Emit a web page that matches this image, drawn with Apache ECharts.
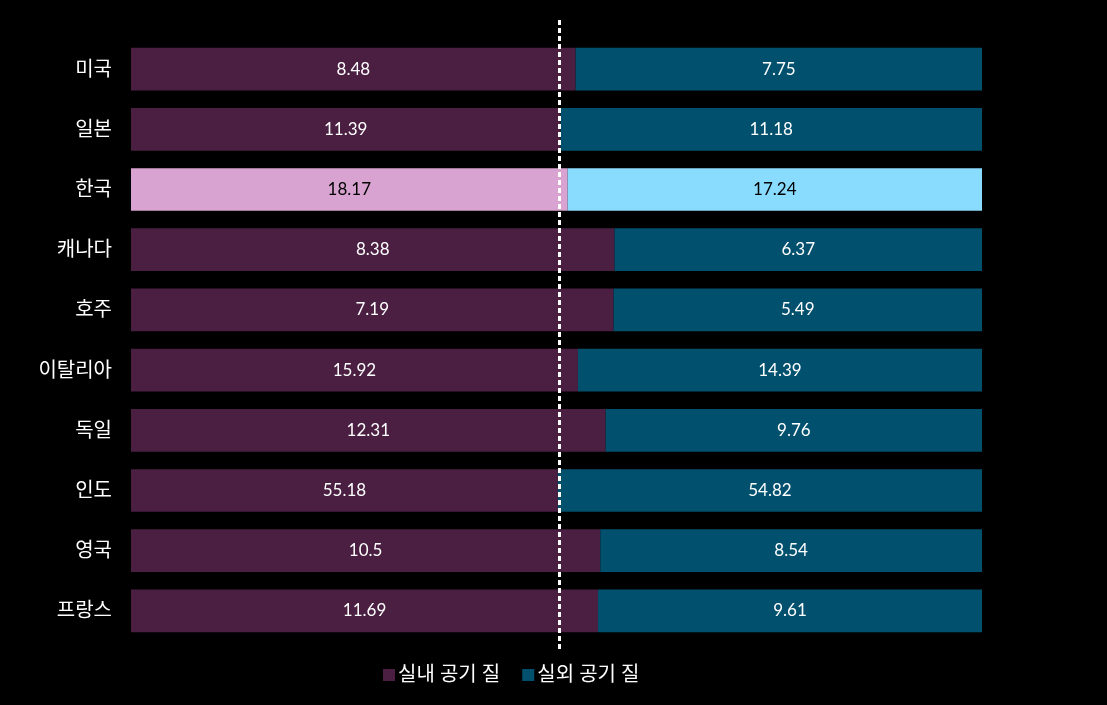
<!DOCTYPE html>
<html>
<head>
<meta charset="utf-8">
<script src="https://cdn.jsdelivr.net/npm/echarts@6/dist/echarts.min.js"></script>
<style>
  html, body { margin: 0; padding: 0; background: #000; }
  #chart { width: 1107px; height: 705px; }
</style>
</head>
<body>
<div id="chart"></div>
<script>
// 국가별 공기 질 (실내 / 실외)
const countries = ['미국', '일본', '한국', '캐나다', '호주', '이탈리아', '독일', '인도', '영국', '프랑스'];
const indoor = [8.48, 11.39, 18.17, 8.38, 7.19, 15.92, 12.31, 55.18, 10.5, 11.69];
const outdoor = [7.75, 11.18, 17.24, 6.37, 5.49, 14.39, 9.76, 54.82, 8.54, 9.61];
const highlight = '한국';

const FONT = 'Lato, "Noto Sans CJK KR", sans-serif';

// 100% 누적 막대로 변환
function share(values, i) {
  return values[i] / (indoor[i] + outdoor[i]) * 100;
}

function buildData(values, normal, hi) {
  return countries.map((name, i) => {
    const item = { value: share(values, i), raw: values[i] };
    if (name === highlight) {
      item.itemStyle = { color: hi };
      item.label = { color: '#000' };
    } else {
      item.itemStyle = { color: normal };
    }
    return item;
  });
}

const chart = echarts.init(document.getElementById('chart'));

const option = {
  backgroundColor: '#000',
  animation: false,
  grid: {
    left: 131,
    right: 125,
    top: 39,
    bottom: 64
  },
  legend: {
    bottom: 15,
    left: 378,
    icon: 'rect',
    itemWidth: 12,
    itemHeight: 12,
    itemGap: 22,
    itemStyle: { borderWidth: 0 },
    textStyle: {
      color: '#fff',
      fontSize: 20,
      padding: [0, 0, 0, -2],
      fontFamily: FONT
    },
    data: [
      { name: '실내 공기 질', itemStyle: { color: '#4a1f42' } },
      { name: '실외 공기 질', itemStyle: { color: '#00506e' } }
    ]
  },
  xAxis: {
    type: 'value',
    min: 0,
    max: 100,
    show: false
  },
  yAxis: {
    type: 'category',
    inverse: true,
    data: countries,
    axisLine: { show: false },
    axisTick: { show: false },
    axisLabel: {
      color: '#fff',
      fontSize: 20,
      margin: 19,
      fontFamily: FONT
    }
  },
  series: [
    {
      name: '실내 공기 질',
      type: 'bar',
      stack: 'total',
      barWidth: '71%',
      data: buildData(indoor, '#4a1f42', '#d9a3d1'),
      label: {
        show: true,
        position: 'inside',
        color: '#fff',
        fontSize: 17,
        fontFamily: FONT,
        formatter: p => p.data.raw
      }
    },
    {
      name: '실외 공기 질',
      type: 'bar',
      stack: 'total',
      barWidth: '71%',
      data: buildData(outdoor, '#00506e', '#8adcff'),
      label: {
        show: true,
        position: 'inside',
        color: '#fff',
        fontSize: 17,
        fontFamily: FONT,
        formatter: p => p.data.raw
      }
    }
  ]
};

chart.setOption(option);

// 50% 기준 점선
const midX = chart.convertToPixel({ xAxisIndex: 0 }, 50) + 3;
chart.setOption({
  graphic: [{
    type: 'line',
    z: 100,
    shape: { x1: midX, y1: 20, x2: midX, y2: 650 },
    style: { stroke: '#fff', lineWidth: 3, lineDash: [5, 3] }
  }]
});
</script>
</body>
</html>
